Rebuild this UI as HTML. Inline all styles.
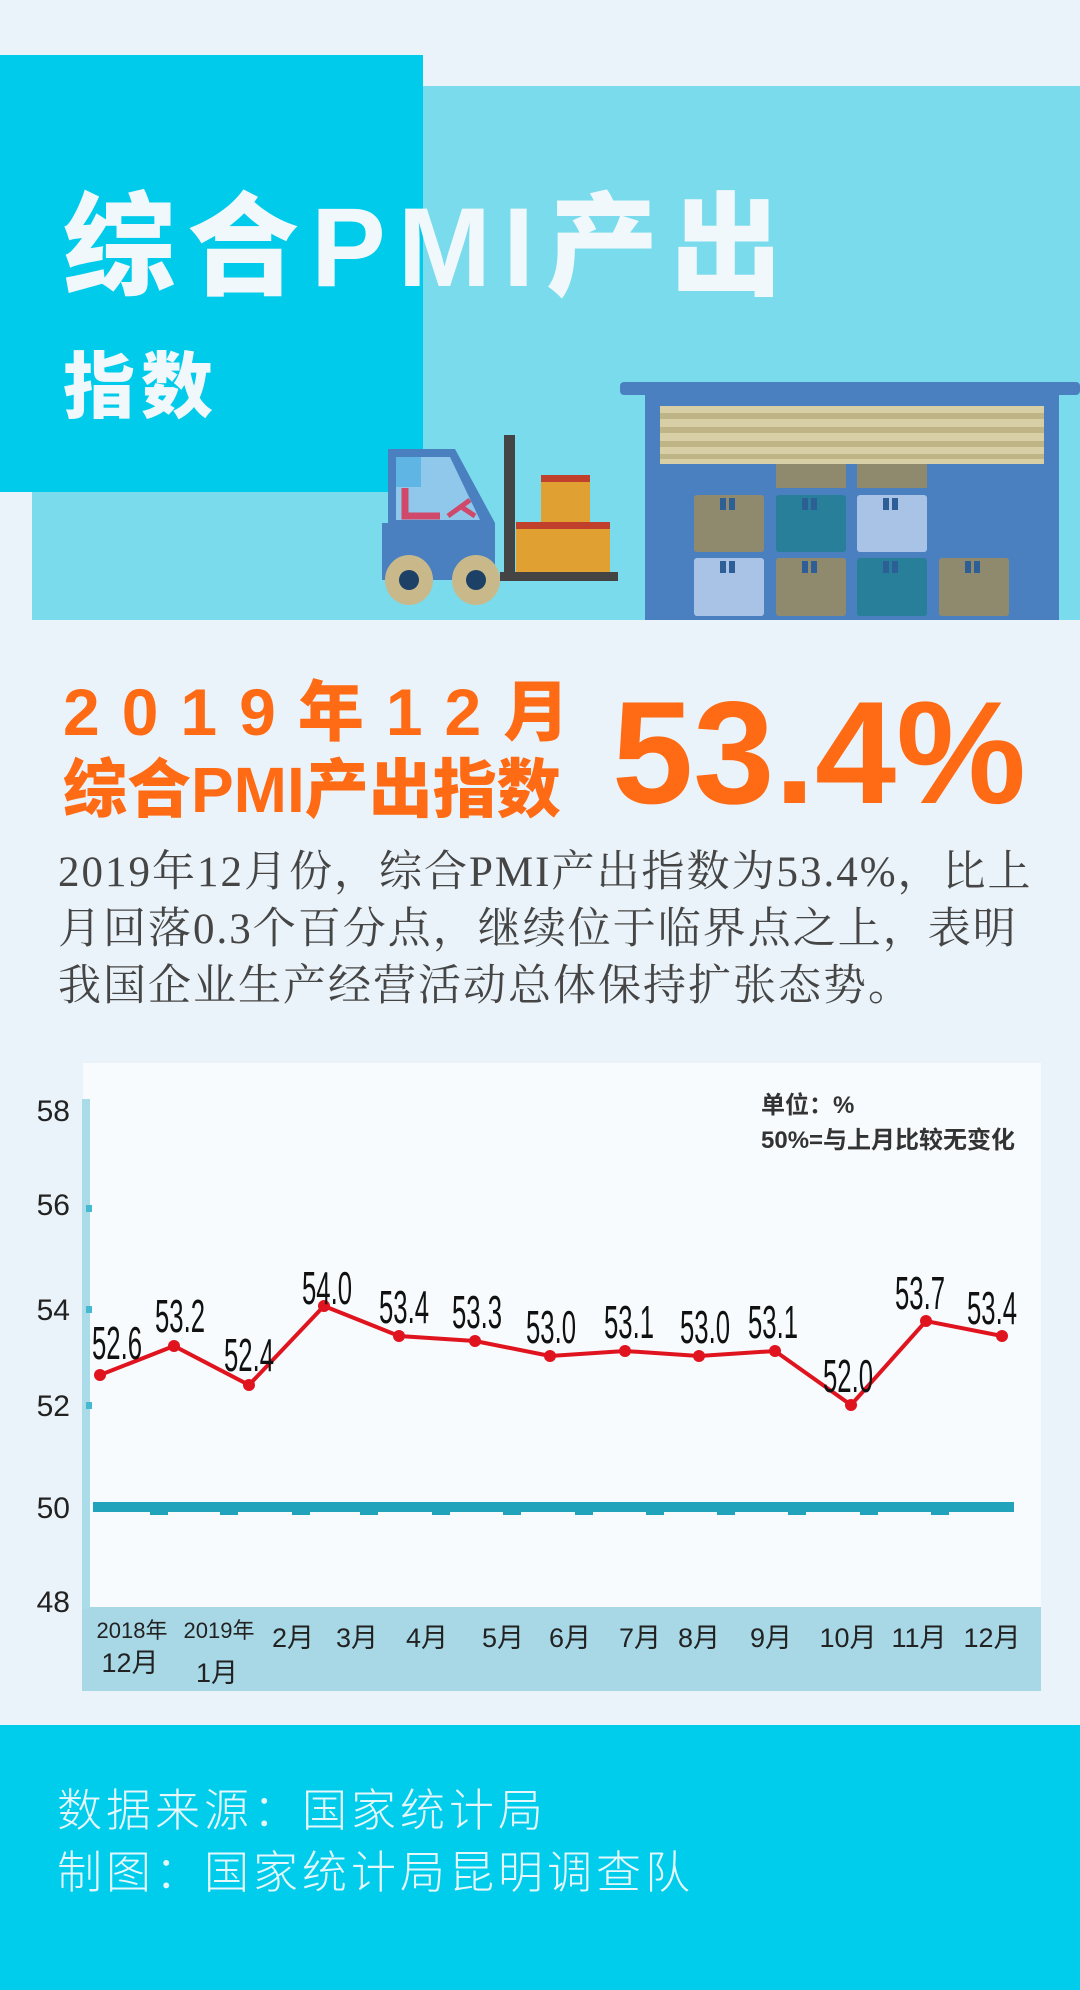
<!DOCTYPE html>
<html><head><meta charset="utf-8">
<style>
html,body{margin:0;padding:0;}
body{width:1080px;height:1990px;background:#eaf3f9;position:relative;overflow:hidden;font-family:"Liberation Sans","Noto Sans CJK SC",sans-serif;}
.a{position:absolute;white-space:nowrap;}
</style></head><body>
<svg class="a" style="left:0;top:0" width="1080" height="1990" viewBox="0 0 1080 1990">
  <rect x="32" y="86" width="1048" height="534" fill="#79dbeb"/>
  <rect x="0" y="55" width="423" height="437" fill="#00cbea"/>
  <rect x="620" y="382" width="460" height="13" rx="4" fill="#4a80c0"/>
  <rect x="645" y="392" width="414" height="228" fill="#4a80c0"/>
  <rect x="660" y="406" width="384" height="58" fill="#d8cfa6"/>
  <rect x="660" y="413" width="384" height="6" fill="#bfb486"/>
  <rect x="660" y="427" width="384" height="6" fill="#bfb486"/>
  <rect x="660" y="441" width="384" height="6" fill="#bfb486"/>
  <rect x="660" y="454" width="384" height="5" fill="#bfb486"/>
  <g>
    <rect x="776" y="464" width="70" height="24" fill="#8f8a6e"/>
    <rect x="857" y="464" width="70" height="24" fill="#8f8a6e"/>
    <rect x="694" y="495" width="70" height="57" rx="3" fill="#8f8a6e"/>
    <rect x="776" y="495" width="70" height="57" rx="3" fill="#287f9a"/>
    <rect x="857" y="495" width="70" height="57" rx="3" fill="#a9c3e6"/>
    <rect x="694" y="558" width="70" height="58" rx="3" fill="#a9c3e6"/>
    <rect x="776" y="558" width="70" height="58" rx="3" fill="#8f8a6e"/>
    <rect x="857" y="558" width="70" height="58" rx="3" fill="#287f9a"/>
    <rect x="939" y="558" width="70" height="58" rx="3" fill="#8f8a6e"/>
    <g fill="#2d5f96">
      <rect x="720" y="498" width="6" height="12"/><rect x="729" y="498" width="6" height="12"/>
      <rect x="802" y="498" width="6" height="12"/><rect x="811" y="498" width="6" height="12"/>
      <rect x="883" y="498" width="6" height="12"/><rect x="892" y="498" width="6" height="12"/>
      <rect x="720" y="561" width="6" height="12"/><rect x="729" y="561" width="6" height="12"/>
      <rect x="802" y="561" width="6" height="12"/><rect x="811" y="561" width="6" height="12"/>
      <rect x="883" y="561" width="6" height="12"/><rect x="892" y="561" width="6" height="12"/>
      <rect x="965" y="561" width="6" height="12"/><rect x="974" y="561" width="6" height="12"/>
    </g>
  </g>
  <path d="M388 449 L455 449 L495 523 L495 580 L382 580 L382 523 L388 523 Z" fill="#4a80c0"/>
  <path d="M396 457 L450 457 L480 520 L396 520 Z" fill="#8fc8ea"/>
  <rect x="396" y="457" width="25" height="30" fill="#5fb6e4"/>
  <path d="M405 488 L405 516 L440 516" stroke="#d0486a" stroke-width="7" fill="none"/>
  <path d="M448 516 L470 500 M460 506 L475 516" stroke="#d0486a" stroke-width="5" fill="none"/>
  <rect x="504" y="435" width="11" height="140" fill="#444"/>
  <rect x="500" y="572" width="118" height="9" fill="#444"/>
  <rect x="541" y="478" width="49" height="44" fill="#e0a032"/>
  <rect x="541" y="475" width="49" height="7" fill="#c0402b"/>
  <rect x="516" y="522" width="94" height="50" fill="#e0a032"/>
  <rect x="516" y="522" width="94" height="7" fill="#c0402b"/>
  <ellipse cx="409" cy="580" rx="24" ry="25" fill="#c9b98a"/><circle cx="409" cy="580" r="10" fill="#1d4066"/>
  <ellipse cx="476" cy="580" rx="24" ry="25" fill="#c9b98a"/><circle cx="476" cy="580" r="10" fill="#1d4066"/>

  <rect x="83" y="1063" width="958" height="628" fill="#f7fbfd"/>
  <rect x="82" y="1607" width="959" height="84" fill="#a8d8e6"/>
  <rect x="82" y="1099" width="8" height="510" fill="#a9dbe8"/>
  <g fill="#46b8cf"><rect x="86" y="1205" width="6" height="7"/><rect x="86" y="1306" width="6" height="7"/><rect x="86" y="1402" width="6" height="7"/></g>
  <g font-family="Liberation Sans" font-size="30" fill="#222" text-anchor="end">
    <text x="70" y="1121">58</text><text x="70" y="1215">56</text><text x="70" y="1320">54</text>
    <text x="70" y="1416">52</text><text x="70" y="1518">50</text><text x="70" y="1612">48</text>
  </g>
  <rect x="93" y="1502" width="921" height="10" fill="#21a3bb"/>
  <g fill="#21a3bb">
    <rect x="150" y="1510" width="18" height="5"/><rect x="220" y="1510" width="18" height="5"/><rect x="292" y="1510" width="18" height="5"/>
    <rect x="360" y="1510" width="18" height="5"/><rect x="432" y="1510" width="18" height="5"/><rect x="503" y="1510" width="18" height="5"/>
    <rect x="575" y="1510" width="18" height="5"/><rect x="646" y="1510" width="18" height="5"/><rect x="717" y="1510" width="18" height="5"/>
    <rect x="788" y="1510" width="18" height="5"/><rect x="860" y="1510" width="18" height="5"/><rect x="931" y="1510" width="18" height="5"/>
  </g>
  <polyline fill="none" stroke="#e0141e" stroke-width="4" points="100,1375 174,1346 249,1385 324,1306 399,1336 475,1341 550,1356 625,1351 699,1356 775,1351 851,1405 926,1321 1002,1336"/>
  <g fill="#e0141e">
    <circle cx="100" cy="1375" r="6"/><circle cx="174" cy="1346" r="6"/><circle cx="249" cy="1385" r="6"/><circle cx="324" cy="1306" r="6"/>
    <circle cx="399" cy="1336" r="6"/><circle cx="475" cy="1341" r="6"/><circle cx="550" cy="1356" r="6"/><circle cx="625" cy="1351" r="6"/>
    <circle cx="699" cy="1356" r="6"/><circle cx="775" cy="1351" r="6"/><circle cx="851" cy="1405" r="6"/><circle cx="926" cy="1321" r="6"/><circle cx="1002" cy="1336" r="6"/>
  </g>
  <g font-family="Liberation Sans" font-size="46" fill="#111" text-anchor="middle">
    <text x="117" y="1359" textLength="50" lengthAdjust="spacingAndGlyphs">52.6</text>
    <text x="180" y="1332" textLength="50" lengthAdjust="spacingAndGlyphs">53.2</text>
    <text x="249" y="1371" textLength="50" lengthAdjust="spacingAndGlyphs">52.4</text>
    <text x="327" y="1304" textLength="50" lengthAdjust="spacingAndGlyphs">54.0</text>
    <text x="404" y="1323" textLength="50" lengthAdjust="spacingAndGlyphs">53.4</text>
    <text x="477" y="1328" textLength="50" lengthAdjust="spacingAndGlyphs">53.3</text>
    <text x="551" y="1343" textLength="50" lengthAdjust="spacingAndGlyphs">53.0</text>
    <text x="629" y="1338" textLength="50" lengthAdjust="spacingAndGlyphs">53.1</text>
    <text x="705" y="1343" textLength="50" lengthAdjust="spacingAndGlyphs">53.0</text>
    <text x="773" y="1338" textLength="50" lengthAdjust="spacingAndGlyphs">53.1</text>
    <text x="848" y="1392" textLength="50" lengthAdjust="spacingAndGlyphs">52.0</text>
    <text x="920" y="1309" textLength="50" lengthAdjust="spacingAndGlyphs">53.7</text>
    <text x="992" y="1324" textLength="50" lengthAdjust="spacingAndGlyphs">53.4</text>
  </g>
  <g font-family="Liberation Sans, Noto Sans CJK SC, sans-serif" font-size="24" font-weight="bold" fill="#333">
    <text x="761" y="1113">单位：%</text>
    <text x="761" y="1148">50%=与上月比较无变化</text>
  </g>
  <g font-family="Liberation Sans, Noto Sans CJK SC, sans-serif" fill="#222" text-anchor="middle">
    <g font-size="22"><text x="132" y="1638">2018年</text><text x="219" y="1638">2019年</text></g>
    <g font-size="27"><text x="130" y="1672">12月</text><text x="217" y="1682">1月</text>
    <text x="293" y="1647">2月</text><text x="357" y="1647">3月</text><text x="427" y="1647">4月</text>
    <text x="503" y="1647">5月</text><text x="570" y="1647">6月</text><text x="640" y="1647">7月</text>
    <text x="699" y="1647">8月</text><text x="771" y="1647">9月</text><text x="848" y="1647">10月</text>
    <text x="919" y="1647">11月</text><text x="992" y="1647">12月</text></g>
  </g>
  <rect x="0" y="1725" width="1080" height="265" fill="#00cdeb"/>
</svg>

<div class="a" style="left:63px;top:178px;font-size:112px;line-height:140px;font-weight:900;color:#f0f8fc;letter-spacing:12px;font-family:'Liberation Sans','Noto Sans CJK SC',sans-serif;">综合PMI产出</div>
<div class="a" style="left:63px;top:336px;font-size:72px;line-height:90px;font-weight:900;color:#f0f8fc;letter-spacing:6px;font-family:'Noto Sans CJK SC',sans-serif;">指数</div>

<div class="a" style="left:63px;top:672px;font-size:66px;line-height:80px;font-weight:900;color:#ff6a14;letter-spacing:22px;font-family:'Liberation Sans','Noto Sans CJK SC',sans-serif;">2019年12月</div>
<div class="a" style="left:63px;top:752px;font-size:64px;line-height:76px;font-weight:900;color:#ff6a14;letter-spacing:0px;font-family:'Liberation Sans','Noto Sans CJK SC',sans-serif;">综合PMI产出指数</div>
<div class="a" style="left:612px;top:668px;font-size:146px;line-height:170px;font-weight:bold;color:#ff6a14;font-family:'Liberation Sans',sans-serif;">53.4%</div>

<div class="a" style="left:58px;top:844px;font-size:43px;line-height:57px;color:#454545;letter-spacing:2px;font-family:'Liberation Serif','Noto Serif CJK SC',serif;">2019年12月份，综合PMI产出指数为53.4%，比上<br>月回落0.3个百分点，继续位于临界点之上，表明<br>我国企业生产经营活动总体保持扩张态势。</div>

<div class="a" style="left:57px;top:1780px;font-size:45px;line-height:62px;color:#e6f8fc;letter-spacing:4px;font-weight:300;font-family:'Liberation Sans','Noto Sans CJK SC',sans-serif;">数据来源：国家统计局<br>制图：国家统计局昆明调查队</div>
</body></html>
